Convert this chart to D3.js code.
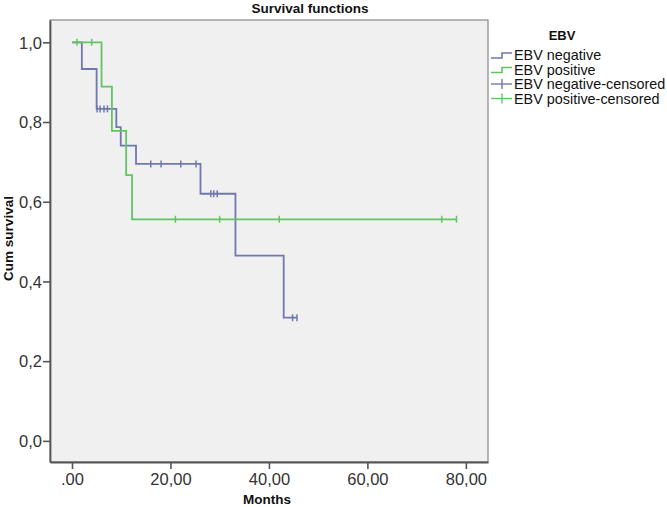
<!DOCTYPE html>
<html><head><meta charset="utf-8">
<script src="https://cdn.jsdelivr.net/npm/d3@7"></script>
<style>body{margin:0;background:#fff}</style>
</head><body>
<svg id="c" width="667" height="507"></svg>
<script>
// ---- data ----
const seriesNames = ["EBV negative", "EBV positive"];
const legendLabels = ["EBV negative", "EBV positive", "EBV negative-censored", "EBV positive-censored"];
// EBV negative step curve
const negTimes = [0, 2, 5, 9.0, 9.9, 13.0, 26.1, 33.2, 43.0];
const negSurv  = [1.0, 0.933, 0.833, 0.787, 0.741, 0.695, 0.620, 0.465, 0.309];
const negCensored = [5.1, 5.7, 6.5, 7.2, 16.0, 18.1, 22.1, 25.2, 28.2, 28.8, 29.5, 44.8, 45.7];
// EBV positive step curve
const posTimes = [0, 6.0, 8.1, 11.0, 12.2];
const posSurv  = [1.0, 0.889, 0.778, 0.667, 0.556];
const posCensored = [1.0, 4.0, 21.0, 30.0, 42.1, 75.1, 78.1];
const xTicks = [0, 20, 40, 60, 80];
const xTickLabels = [".00", "20,00", "40,00", "60,00", "80,00"];
const yTicks = [0, 0.2, 0.4, 0.6, 0.8, 1.0];
const yTickLabels = ["0,0", "0,2", "0,4", "0,6", "0,8", "1,0"];

const colors = {neg: "#6f78ae", pos: "#62c462"};

const svg = d3.select("#c");
const L = 50, R = 488, T = 20, B = 462;
const x = d3.scaleLinear().domain([-4.47, 84.5]).range([L, R]);
const y = d3.scaleLinear().domain([-0.053, 1.056]).range([B, T]);

// plot background
svg.append("rect").attr("x", L).attr("y", T).attr("width", R - L).attr("height", B - T)
  .attr("fill", "#f0f0f0").attr("stroke", "#888").attr("stroke-width", 1.2);

// axes
const fontTick = "'Liberation Sans', Arial, sans-serif";
const xAxis = d3.axisBottom(x).tickValues(xTicks).tickSize(7).tickSizeOuter(0)
  .tickFormat((d, i) => xTickLabels[i]);
const gx = svg.append("g").attr("transform", `translate(0,${B})`).call(xAxis);
gx.select(".domain").attr("stroke", "#555").attr("stroke-width", 1.8);
gx.selectAll(".tick line").attr("stroke", "#555").attr("stroke-width", 1.6);
gx.selectAll(".tick text").attr("font-family", fontTick).attr("font-size", 16.5)
  .attr("fill", "#333").attr("y", 0).attr("dy", 0).attr("transform", "translate(0,23)");

const yAxis = d3.axisLeft(y).tickValues(yTicks).tickSize(7).tickSizeOuter(0)
  .tickFormat((d, i) => yTickLabels[i]);
const gy = svg.append("g").attr("transform", `translate(${L},0)`).call(yAxis);
gy.select(".domain").attr("stroke", "#555").attr("stroke-width", 1.8);
gy.selectAll(".tick line").attr("stroke", "#555").attr("stroke-width", 1.6);
gy.selectAll(".tick text").attr("font-family", fontTick).attr("font-size", 16.5)
  .attr("fill", "#333").attr("x", -8).attr("dy", "0.35em");

// step curve helper
function stepValue(times, surv, t) {
  let v = surv[0];
  for (let i = 0; i < times.length; i++) if (times[i] <= t) v = surv[i];
  return v;
}
function drawSeries(times, surv, censored, color) {
  const end = d3.max(censored.concat(times));
  const pts = times.map((t, i) => [t, surv[i]]);
  pts.push([end, surv[surv.length - 1]]);
  const line = d3.line().x(d => x(d[0])).y(d => y(d[1])).curve(d3.curveStepAfter);
  svg.append("path").attr("d", line(pts)).attr("fill", "none")
    .attr("stroke", color).attr("stroke-width", 1.8);
  svg.append("g").selectAll("line").data(censored).join("line")
    .attr("x1", d => x(d)).attr("x2", d => x(d))
    .attr("y1", d => y(stepValue(times, surv, d)) - 3.5)
    .attr("y2", d => y(stepValue(times, surv, d)) + 3.5)
    .attr("stroke", color).attr("stroke-width", 1.5);
}
drawSeries(negTimes, negSurv, negCensored, colors.neg);
drawSeries(posTimes, posSurv, posCensored, colors.pos);

// titles
const fontBold = "'Liberation Sans', Arial, sans-serif";
svg.append("text").attr("x", 310).attr("y", 12.5).attr("text-anchor", "middle")
  .attr("font-family", fontBold).attr("font-weight", "bold").attr("font-size", 13.5)
  .attr("fill", "#111").text("Survival functions");
svg.append("text").attr("x", 267).attr("y", 504).attr("text-anchor", "middle")
  .attr("font-family", fontBold).attr("font-weight", "bold").attr("font-size", 13.5)
  .attr("fill", "#111").text("Months");
svg.append("text").attr("transform", "translate(12.5,238.5) rotate(-90)").attr("text-anchor", "middle")
  .attr("font-family", fontBold).attr("font-weight", "bold").attr("font-size", 13.5)
  .attr("fill", "#111").text("Cum survival");

// legend
svg.append("text").attr("x", 562).attr("y", 40).attr("text-anchor", "middle")
  .attr("font-family", fontBold).attr("font-weight", "bold").attr("font-size", 13)
  .attr("fill", "#111").text("EBV");
const legColors = [colors.neg, colors.pos, colors.neg, colors.pos];
const baselines = [60, 74.5, 89, 103.5];
legendLabels.forEach((lab, i) => {
  const b = baselines[i];
  const g = svg.append("g");
  if (i < 2) {
    g.append("path").attr("d", `M491,${b - 2} H502 V${b - 7} H512`).attr("fill", "none")
      .attr("stroke", legColors[i]).attr("stroke-width", 1.6);
  } else {
    g.append("line").attr("x1", 491).attr("x2", 512).attr("y1", b - 5).attr("y2", b - 5)
      .attr("stroke", legColors[i]).attr("stroke-width", 1.4);
    g.append("line").attr("x1", 502).attr("x2", 502).attr("y1", b - 10).attr("y2", b)
      .attr("stroke", legColors[i]).attr("stroke-width", 1.4);
  }
  g.append("text").attr("x", 514).attr("y", b).attr("font-family", fontTick)
    .attr("font-size", 14.4).attr("fill", "#111").text(lab);
});
</script>
</body></html>
